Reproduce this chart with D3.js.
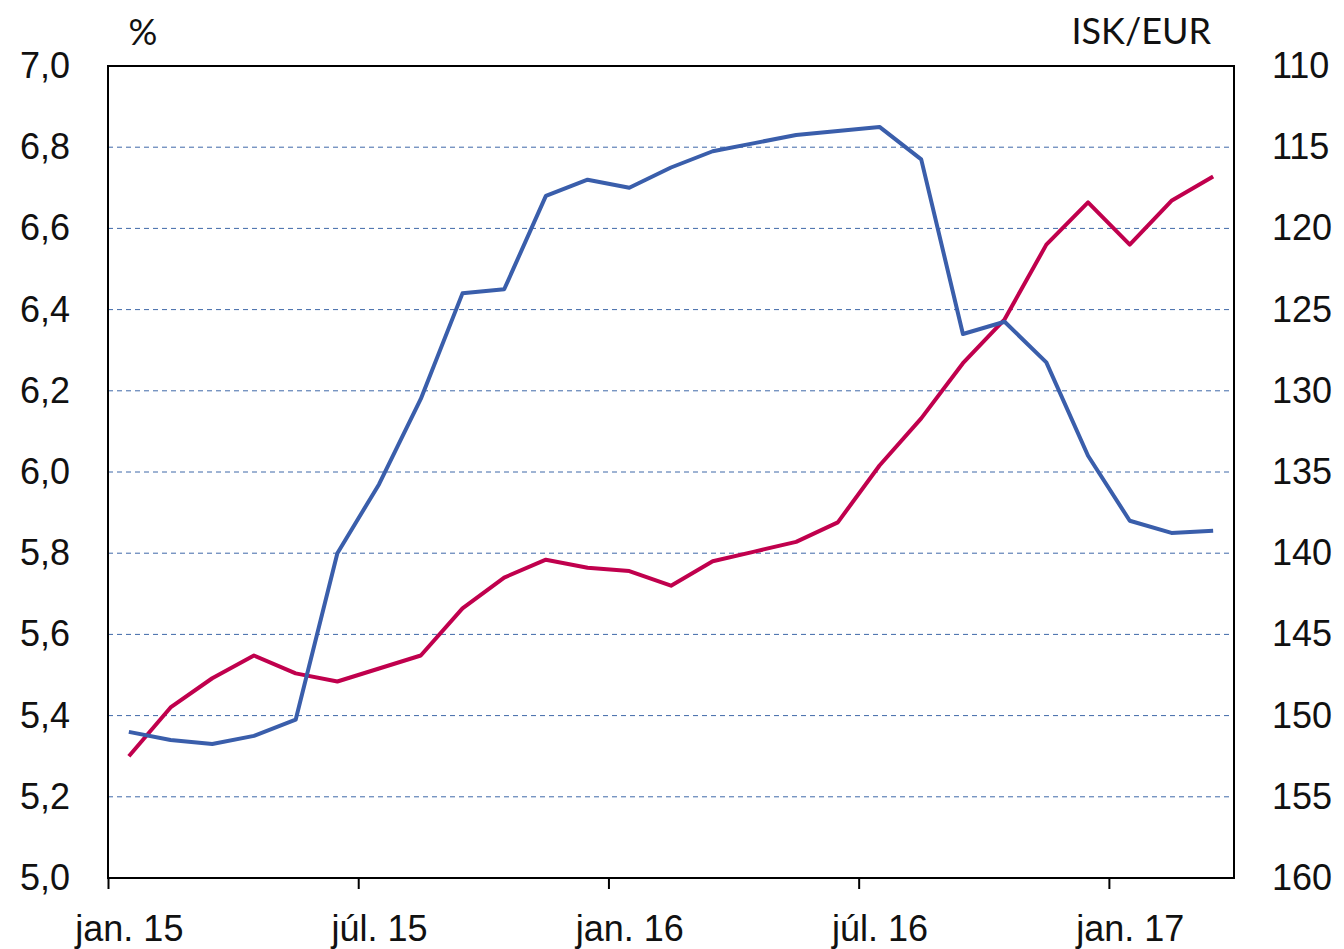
<!DOCTYPE html>
<html>
  <head>
    <meta charset="utf-8">
    <style>
      body { margin: 0; background: #fff; font-family: Lato, "Open Sans", sans-serif; }
      .grid line { stroke: #3f68a8; stroke-width: 1; stroke-dasharray: 5,4; }
      .lbl { font-size: 36px; fill: #111; }
    </style>
  </head>
  <body>
    <script src="https://d3js.org/d3.v7.min.js"></script>
    <script>
      // months from jan. 15 to mar. 17, one point per month
      var months = ["2015-01","2015-02","2015-03","2015-04","2015-05","2015-06","2015-07","2015-08","2015-09","2015-10","2015-11","2015-12",
                    "2016-01","2016-02","2016-03","2016-04","2016-05","2016-06","2016-07","2016-08","2016-09","2016-10","2016-11","2016-12",
                    "2017-01","2017-02","2017-03"];

      // interest rate, % (left axis)
      var rate = [5.36,5.34,5.33,5.35,5.39,5.80,5.97,6.18,6.44,6.45,6.68,6.72,
                  6.70,6.75,6.79,6.81,6.83,6.84,6.85,6.77,6.34,6.37,6.27,6.04,
                  5.88,5.85,5.855];

      // exchange rate ISK/EUR (right axis, inverted)
      var isk = [152.5,149.5,147.7,146.3,147.4,147.9,147.1,146.3,143.4,141.5,140.4,140.9,
                 141.1,142.0,140.5,139.9,139.3,138.1,134.6,131.7,128.3,125.6,121.0,118.4,
                 121.0,118.3,116.8];

      var xTicks = [0, 6, 12, 18, 24];
      var xTickLabels = ["jan. 15","júl. 15","jan. 16","júl. 16","jan. 17"];
      var leftTicks = [5.0,5.2,5.4,5.6,5.8,6.0,6.2,6.4,6.6,6.8,7.0];
      var rightTicks = [110,115,120,125,130,135,140,145,150,155,160];

      var W = 1344, H = 949;
      var margin = {top: 66, right: 110, bottom: 71, left: 108};
      var width = W - margin.left - margin.right,
          height = H - margin.top - margin.bottom;

      var svg = d3.select("body").append("svg")
          .attr("width", W)
          .attr("height", H);

      var g = svg.append("g")
          .attr("transform", "translate(" + margin.left + "," + margin.top + ")");

      var x = d3.scaleLinear().domain([0, months.length]).range([0, width]);
      var yL = d3.scaleLinear().domain([5, 7]).range([height, 0]);
      var yR = d3.scaleLinear().domain([110, 160]).range([0, height]);

      var comma = function(d) { return d3.format(".1f")(d).replace(".", ","); };

      // dashed gridlines
      g.append("g").attr("class", "grid")
        .selectAll("line")
        .data(leftTicks.filter(function(d) { return d > 5 && d < 7; }))
        .enter().append("line")
          .attr("x1", 0).attr("x2", width)
          .attr("y1", function(d) { return yL(d); })
          .attr("y2", function(d) { return yL(d); });

      // lines
      var lineL = d3.line()
          .x(function(d, i) { return x(i + 0.5); })
          .y(function(d) { return yL(d); });
      var lineR = d3.line()
          .x(function(d, i) { return x(i + 0.5); })
          .y(function(d) { return yR(d); });

      g.append("path").datum(isk)
          .attr("fill", "none").attr("stroke", "#c0004d").attr("stroke-width", 4)
          .attr("stroke-linejoin", "round")
          .attr("d", lineR);

      g.append("path").datum(rate)
          .attr("fill", "none").attr("stroke", "#3a5eab").attr("stroke-width", 4)
          .attr("stroke-linejoin", "round")
          .attr("d", lineL);

      // frame
      g.append("rect")
          .attr("width", width).attr("height", height)
          .attr("fill", "none").attr("stroke", "#000").attr("stroke-width", 2);

      // x axis: ticks at month boundaries, labels centred on the month
      var halfMonth = x(0.5) - x(0);
      var xAxis = g.append("g")
          .attr("transform", "translate(0," + height + ")")
          .call(d3.axisBottom(x).tickValues(xTicks).tickSize(11).tickPadding(26)
                .tickFormat(function(d, i) { return xTickLabels[i]; }));
      xAxis.select(".domain").remove();
      xAxis.selectAll("line").attr("stroke", "#000").attr("stroke-width", 2);
      xAxis.selectAll("text").attr("class", "lbl").attr("font-family", null).attr("font-size", null)
          .attr("fill", null).attr("x", halfMonth);

      // left axis
      var lAxis = g.append("g")
          .call(d3.axisLeft(yL).tickValues(leftTicks).tickSize(0).tickPadding(38).tickFormat(comma));
      lAxis.select(".domain").remove();
      lAxis.selectAll("text").attr("class", "lbl").attr("font-family", null).attr("font-size", null)
          .attr("fill", null);

      // right axis
      var rAxis = g.append("g")
          .attr("transform", "translate(" + width + ",0)")
          .call(d3.axisRight(yR).tickValues(rightTicks).tickSize(0).tickPadding(38));
      rAxis.select(".domain").remove();
      rAxis.selectAll("text").attr("class", "lbl").attr("font-family", null).attr("font-size", null)
          .attr("fill", null);

      // unit labels
      svg.append("text").attr("class", "lbl")
          .attr("x", 143).attr("y", 45).attr("text-anchor", "middle")
          .text("%");
      svg.append("text").attr("class", "lbl")
          .attr("x", 1211).attr("y", 44).attr("text-anchor", "end")
          .text("ISK/EUR");
    </script>
  </body>
</html>
